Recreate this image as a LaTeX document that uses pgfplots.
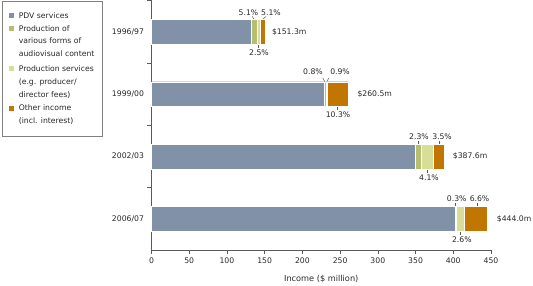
\documentclass[border=0pt]{standalone}
\usepackage{fontspec}
\setmainfont{DejaVu Sans}
\usepackage{pgfplots}
\pgfplotsset{compat=1.18}
\definecolor{pdv}{RGB}{128,145,168}
\definecolor{olive}{RGB}{182,190,112}
\definecolor{lightg}{RGB}{216,222,152}
\definecolor{orng}{RGB}{192,118,0}
\definecolor{txt}{RGB}{40,40,40}
\definecolor{axl}{RGB}{90,90,90}
\newcommand{\lsa}{\rule[-2pt]{0pt}{8pt}}
\newcommand{\lsb}{\rule[-2pt]{0pt}{10pt}}
\newcommand{\lsc}{\rule[-2pt]{0pt}{9pt}}
\pgfplotsset{mylegend/.style={legend image code/.code={\fill[##1] (0pt,-0.2pt) rectangle (6pt,5.8pt);}}}
\begin{document}
\begin{tikzpicture}[font=\fontsize{7.7}{9.5}\selectfont]
\path[use as bounding box] (-151.5pt,-36pt) rectangle (381.5pt,250pt);
\begin{axis}[
  at={(0,0)}, anchor=south west,
  scale only axis, width=339.5pt, height=249.5pt,
  xmin=0, xmax=450, ymin=-0.5, ymax=3.5,
  xbar stacked, bar width=24.7pt,
  axis x line*=bottom, axis y line*=left,
  axis line style={-, draw=axl, line width=0.6pt},
  xtick={0,50,...,450},
  tick align=outside, major tick length=4pt,
  tick style={draw=axl, line width=0.6pt},
  ytick={0.5,1.5,2.5,3.5},
  yticklabels={},
  extra y ticks={0,1,2,3},
  extra y tick labels={2006/07,2002/03,1999/00,1996/97},
  extra y tick style={tick style={draw=none}},
  ticklabel style={text=txt},
  /pgf/number format/assume math mode=true,
  xlabel={Income (\$ million)},
  xlabel style={at={(axis description cs:0.5,-0.116)}, anchor=center, text=txt, font=\fontsize{8.2}{10}\selectfont},
  clip=false,
  legend style={at={(-0.4404,0.998)}, anchor=north west, draw=black!50, line width=0.6pt,
    fill=white, inner xsep=5.5pt, inner ysep=9pt, row sep=1.3pt,
    font=\fontsize{7.7}{9.5}\selectfont,
    /tikz/every odd column/.append style={column sep=2.6pt},
    cells={anchor=base west, inner sep=2pt, text=txt}},
]
\addplot[fill=pdv, draw=white, line width=0.4pt, mylegend] coordinates {(402.26,0) (349.23,1) (228.98,2) (132.08,3)};
\addlegendentry{\lsa PDV services}
\addplot[fill=olive, draw=white, line width=0.4pt, mylegend] coordinates {(1.33,0) (8.91,1) (2.08,2) (7.72,3)};
\addlegendentry{\lsa Production of}
\addlegendimage{empty legend}
\addlegendentry{\lsa various forms of}
\addlegendimage{empty legend}
\addlegendentry{\lsa audiovisual content}
\addplot[fill=lightg, draw=white, line width=0.4pt, mylegend] coordinates {(11.54,0) (15.89,1) (2.34,2) (3.78,3)};
\addlegendentry{\lsb Production services}
\addlegendimage{empty legend}
\addlegendentry{\lsa (e.g. producer/}
\addlegendimage{empty legend}
\addlegendentry{\lsa director fees)}
\addplot[fill=orng, draw=white, line width=0.4pt, mylegend] coordinates {(29.30,0) (13.57,1) (26.83,2) (7.72,3)};
\addlegendentry{\lsc Other income}
\addlegendimage{empty legend}
\addlegendentry{\lsa (incl. interest)}

% inner labels
\node[text=txt] at (axis cs:73.6,3) {87.3\%};
\node[text=txt] at (axis cs:122.6,2) {87.9\%};
\node[text=txt] at (axis cs:182.3,1) {90.1\%};
\node[text=txt] at (axis cs:232.6,0) {90.6\%};
% totals
\node[anchor=west, inner sep=0pt, text=txt] at (axis cs:159.5,3) {\$151.3m};
\node[anchor=west, inner sep=0pt, text=txt] at (axis cs:272.8,2) {\$260.5m};
\node[anchor=west, inner sep=0pt, text=txt] at (axis cs:399.3,1) {\$387.6m};
\node[anchor=west, inner sep=0pt, text=txt] at (axis cs:457.6,0) {\$444.0m};
% segment labels
\node[text=txt] at (axis cs:128.6,3.311) {5.1\%};
\node[text=txt] at (axis cs:158.4,3.311) {5.1\%};
\node[text=txt] at (axis cs:142.5,2.663) {2.5\%};
\node[text=txt] at (axis cs:214.1,2.359) {0.8\%};
\node[text=txt] at (axis cs:249.9,2.359) {0.9\%};
\node[text=txt] at (axis cs:247.2,1.665) {10.3\%};
\node[text=txt] at (axis cs:354.6,1.317) {2.3\%};
\node[text=txt] at (axis cs:385.1,1.317) {3.5\%};
\node[text=txt] at (axis cs:367.8,0.66) {4.1\%};
\node[text=txt] at (axis cs:404.6,0.317) {0.3\%};
\node[text=txt] at (axis cs:434.8,0.317) {6.6\%};
\node[text=txt] at (axis cs:411.4,-0.34) {2.6\%};
% leaders
\draw[axl, line width=0.5pt] (axis cs:133.6,3.244) -- (axis cs:135.9,3.198);
\draw[axl, line width=0.5pt] (axis cs:151.8,3.244) -- (axis cs:147.4,3.198);
\draw[axl, line width=0.5pt] (axis cs:141.7,2.802) -- (axis cs:141.7,2.739);
\draw[axl, line width=0.5pt] (axis cs:227.0,2.26) -- (axis cs:229.9,2.196);
\draw[axl, line width=0.5pt] (axis cs:235.2,2.26) -- (axis cs:232.2,2.196);
\draw[axl, line width=0.5pt] (axis cs:246.8,1.802) -- (axis cs:246.8,1.74);
\draw[axl, line width=0.5pt] (axis cs:353.7,1.25) -- (axis cs:353.7,1.198);
\draw[axl, line width=0.5pt] (axis cs:382.0,1.25) -- (axis cs:382.0,1.198);
\draw[axl, line width=0.5pt] (axis cs:366.1,0.802) -- (axis cs:366.1,0.74);
\draw[axl, line width=0.5pt] (axis cs:402.9,0.25) -- (axis cs:402.9,0.198);
\draw[axl, line width=0.5pt] (axis cs:432.4,0.25) -- (axis cs:432.4,0.198);
\draw[axl, line width=0.5pt] (axis cs:409.4,-0.198) -- (axis cs:409.4,-0.26);
\end{axis}
\end{tikzpicture}
\end{document}
